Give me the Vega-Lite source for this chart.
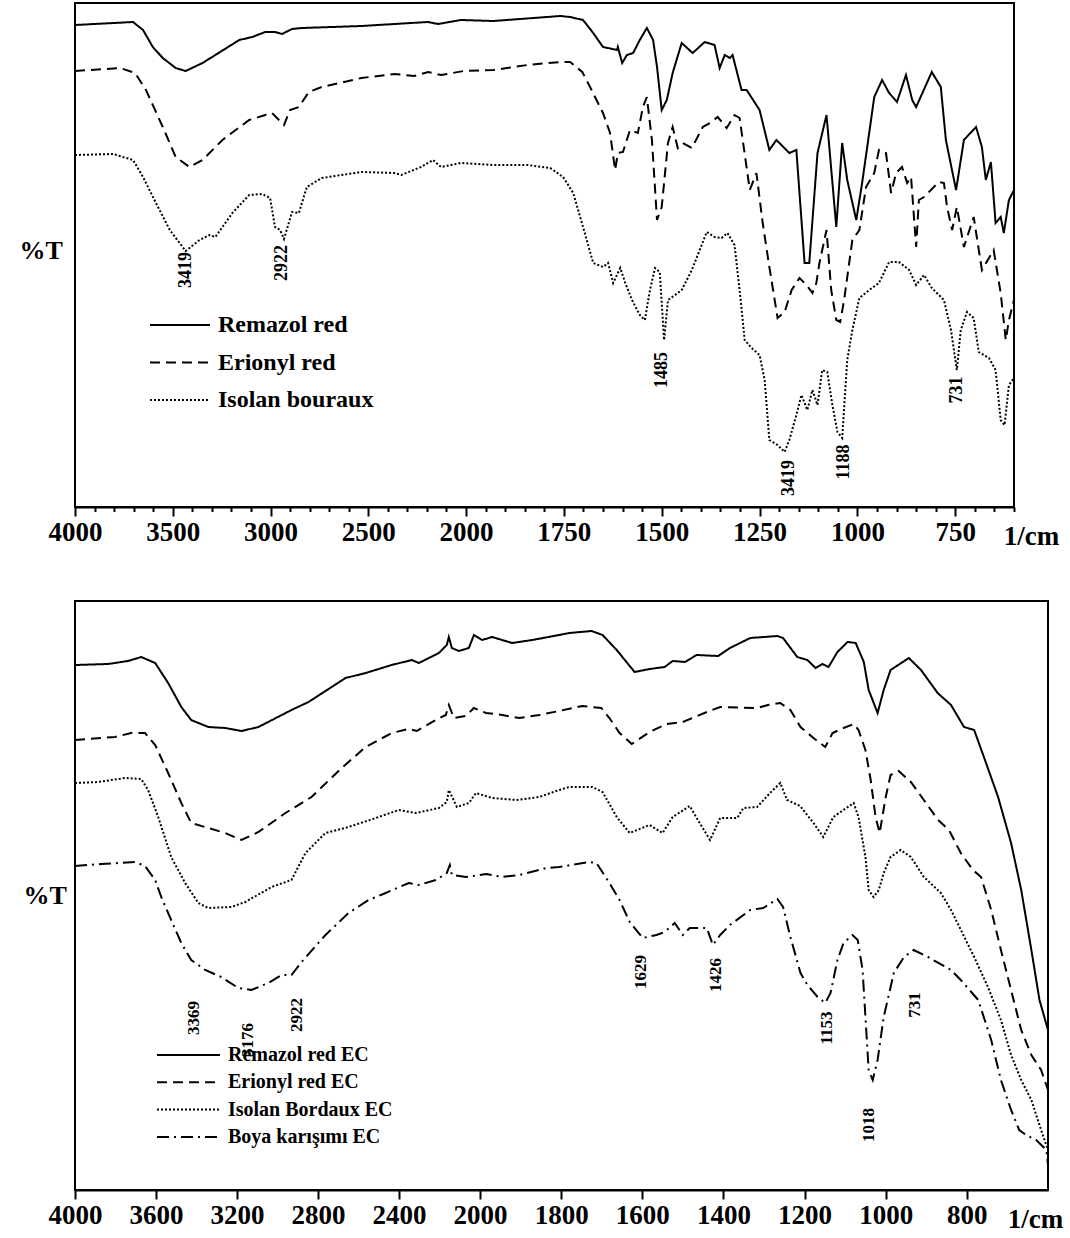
{
  "$schema": "https://vega.github.io/schema/vega-lite/v6.json",
  "padding": {"left": 18, "top": 2, "right": 0, "bottom": 0},
  "background": "white",
  "config": {
    "font": "Liberation Serif",
    "view": {"stroke": "black", "strokeWidth": 2},
    "concat": {"spacing": 94}
  },
  "datasets": {
    "spectraA": [
      {"dye":"Remazol red","wn":4000,"t":482},{"dye":"Remazol red","wn":3703,"t":485},{"dye":"Remazol red","wn":3652,"t":477},{"dye":"Remazol red","wn":3602,"t":460},{"dye":"Remazol red","wn":3551,"t":449},{"dye":"Remazol red","wn":3485,"t":439},{"dye":"Remazol red","wn":3434,"t":436},{"dye":"Remazol red","wn":3348,"t":444},{"dye":"Remazol red","wn":3282,"t":452},{"dye":"Remazol red","wn":3160,"t":467},{"dye":"Remazol red","wn":3093,"t":470},{"dye":"Remazol red","wn":3027,"t":475},{"dye":"Remazol red","wn":2977,"t":475},{"dye":"Remazol red","wn":2941,"t":473},{"dye":"Remazol red","wn":2890,"t":478},{"dye":"Remazol red","wn":2839,"t":479},{"dye":"Remazol red","wn":2535,"t":481},{"dye":"Remazol red","wn":2281,"t":484},{"dye":"Remazol red","wn":2194,"t":485},{"dye":"Remazol red","wn":2143,"t":483},{"dye":"Remazol red","wn":2027,"t":487},{"dye":"Remazol red","wn":1930,"t":486},{"dye":"Remazol red","wn":1759,"t":491},{"dye":"Remazol red","wn":1734,"t":490},{"dye":"Remazol red","wn":1701,"t":487},{"dye":"Remazol red","wn":1675,"t":474},{"dye":"Remazol red","wn":1650,"t":460},{"dye":"Remazol red","wn":1614,"t":457},{"dye":"Remazol red","wn":1612,"t":460},{"dye":"Remazol red","wn":1601,"t":444},{"dye":"Remazol red","wn":1589,"t":452},{"dye":"Remazol red","wn":1573,"t":454},{"dye":"Remazol red","wn":1556,"t":467},{"dye":"Remazol red","wn":1538,"t":479},{"dye":"Remazol red","wn":1522,"t":467},{"dye":"Remazol red","wn":1512,"t":440},{"dye":"Remazol red","wn":1500,"t":397},{"dye":"Remazol red","wn":1487,"t":407},{"dye":"Remazol red","wn":1472,"t":434},{"dye":"Remazol red","wn":1449,"t":464},{"dye":"Remazol red","wn":1421,"t":454},{"dye":"Remazol red","wn":1390,"t":465},{"dye":"Remazol red","wn":1365,"t":462},{"dye":"Remazol red","wn":1352,"t":439},{"dye":"Remazol red","wn":1339,"t":452},{"dye":"Remazol red","wn":1326,"t":449},{"dye":"Remazol red","wn":1319,"t":452},{"dye":"Remazol red","wn":1296,"t":417},{"dye":"Remazol red","wn":1283,"t":417},{"dye":"Remazol red","wn":1250,"t":397},{"dye":"Remazol red","wn":1225,"t":357},{"dye":"Remazol red","wn":1207,"t":367},{"dye":"Remazol red","wn":1174,"t":354},{"dye":"Remazol red","wn":1156,"t":357},{"dye":"Remazol red","wn":1135,"t":244},{"dye":"Remazol red","wn":1123,"t":244},{"dye":"Remazol red","wn":1102,"t":354},{"dye":"Remazol red","wn":1079,"t":392},{"dye":"Remazol red","wn":1054,"t":280},{"dye":"Remazol red","wn":1039,"t":364},{"dye":"Remazol red","wn":1026,"t":327},{"dye":"Remazol red","wn":1003,"t":287},{"dye":"Remazol red","wn":988,"t":324},{"dye":"Remazol red","wn":957,"t":410},{"dye":"Remazol red","wn":937,"t":427},{"dye":"Remazol red","wn":919,"t":414},{"dye":"Remazol red","wn":899,"t":405},{"dye":"Remazol red","wn":876,"t":432},{"dye":"Remazol red","wn":860,"t":407},{"dye":"Remazol red","wn":850,"t":400},{"dye":"Remazol red","wn":810,"t":435},{"dye":"Remazol red","wn":787,"t":420},{"dye":"Remazol red","wn":774,"t":367},{"dye":"Remazol red","wn":748,"t":317},{"dye":"Remazol red","wn":728,"t":367},{"dye":"Remazol red","wn":697,"t":380},{"dye":"Remazol red","wn":682,"t":360},{"dye":"Remazol red","wn":672,"t":327},{"dye":"Remazol red","wn":659,"t":345},{"dye":"Remazol red","wn":647,"t":284},{"dye":"Remazol red","wn":634,"t":290},{"dye":"Remazol red","wn":626,"t":274},{"dye":"Remazol red","wn":613,"t":307},{"dye":"Remazol red","wn":600,"t":317},
      {"dye":"Erionyl red","wn":4000,"t":436},{"dye":"Erionyl red","wn":3769,"t":439},{"dye":"Erionyl red","wn":3693,"t":434},{"dye":"Erionyl red","wn":3637,"t":417},{"dye":"Erionyl red","wn":3551,"t":380},{"dye":"Erionyl red","wn":3485,"t":350},{"dye":"Erionyl red","wn":3414,"t":340},{"dye":"Erionyl red","wn":3348,"t":347},{"dye":"Erionyl red","wn":3246,"t":367},{"dye":"Erionyl red","wn":3109,"t":387},{"dye":"Erionyl red","wn":3027,"t":392},{"dye":"Erionyl red","wn":2992,"t":394},{"dye":"Erionyl red","wn":2931,"t":382},{"dye":"Erionyl red","wn":2900,"t":397},{"dye":"Erionyl red","wn":2855,"t":400},{"dye":"Erionyl red","wn":2804,"t":415},{"dye":"Erionyl red","wn":2738,"t":420},{"dye":"Erionyl red","wn":2535,"t":429},{"dye":"Erionyl red","wn":2367,"t":433},{"dye":"Erionyl red","wn":2265,"t":431},{"dye":"Erionyl red","wn":2194,"t":435},{"dye":"Erionyl red","wn":2128,"t":432},{"dye":"Erionyl red","wn":2011,"t":436},{"dye":"Erionyl red","wn":1930,"t":437},{"dye":"Erionyl red","wn":1843,"t":442},{"dye":"Erionyl red","wn":1759,"t":445},{"dye":"Erionyl red","wn":1734,"t":445},{"dye":"Erionyl red","wn":1703,"t":435},{"dye":"Erionyl red","wn":1683,"t":420},{"dye":"Erionyl red","wn":1650,"t":394},{"dye":"Erionyl red","wn":1632,"t":374},{"dye":"Erionyl red","wn":1619,"t":337},{"dye":"Erionyl red","wn":1612,"t":354},{"dye":"Erionyl red","wn":1599,"t":355},{"dye":"Erionyl red","wn":1581,"t":377},{"dye":"Erionyl red","wn":1561,"t":374},{"dye":"Erionyl red","wn":1548,"t":400},{"dye":"Erionyl red","wn":1538,"t":410},{"dye":"Erionyl red","wn":1525,"t":367},{"dye":"Erionyl red","wn":1512,"t":287},{"dye":"Erionyl red","wn":1500,"t":300},{"dye":"Erionyl red","wn":1484,"t":364},{"dye":"Erionyl red","wn":1472,"t":380},{"dye":"Erionyl red","wn":1459,"t":359},{"dye":"Erionyl red","wn":1446,"t":364},{"dye":"Erionyl red","wn":1423,"t":359},{"dye":"Erionyl red","wn":1395,"t":380},{"dye":"Erionyl red","wn":1377,"t":384},{"dye":"Erionyl red","wn":1357,"t":390},{"dye":"Erionyl red","wn":1334,"t":379},{"dye":"Erionyl red","wn":1314,"t":392},{"dye":"Erionyl red","wn":1301,"t":389},{"dye":"Erionyl red","wn":1275,"t":317},{"dye":"Erionyl red","wn":1258,"t":334},{"dye":"Erionyl red","wn":1242,"t":284},{"dye":"Erionyl red","wn":1225,"t":240},{"dye":"Erionyl red","wn":1204,"t":189},{"dye":"Erionyl red","wn":1186,"t":195},{"dye":"Erionyl red","wn":1168,"t":217},{"dye":"Erionyl red","wn":1148,"t":229},{"dye":"Erionyl red","wn":1130,"t":222},{"dye":"Erionyl red","wn":1115,"t":214},{"dye":"Erionyl red","wn":1105,"t":224},{"dye":"Erionyl red","wn":1097,"t":244},{"dye":"Erionyl red","wn":1079,"t":277},{"dye":"Erionyl red","wn":1067,"t":217},{"dye":"Erionyl red","wn":1054,"t":187},{"dye":"Erionyl red","wn":1044,"t":185},{"dye":"Erionyl red","wn":1034,"t":207},{"dye":"Erionyl red","wn":1013,"t":267},{"dye":"Erionyl red","wn":995,"t":277},{"dye":"Erionyl red","wn":978,"t":320},{"dye":"Erionyl red","wn":957,"t":334},{"dye":"Erionyl red","wn":945,"t":357},{"dye":"Erionyl red","wn":927,"t":354},{"dye":"Erionyl red","wn":914,"t":314},{"dye":"Erionyl red","wn":901,"t":334},{"dye":"Erionyl red","wn":886,"t":340},{"dye":"Erionyl red","wn":873,"t":324},{"dye":"Erionyl red","wn":863,"t":330},{"dye":"Erionyl red","wn":850,"t":260},{"dye":"Erionyl red","wn":843,"t":307},{"dye":"Erionyl red","wn":830,"t":310},{"dye":"Erionyl red","wn":792,"t":325},{"dye":"Erionyl red","wn":779,"t":324},{"dye":"Erionyl red","wn":771,"t":300},{"dye":"Erionyl red","wn":758,"t":277},{"dye":"Erionyl red","wn":746,"t":300},{"dye":"Erionyl red","wn":728,"t":260},{"dye":"Erionyl red","wn":703,"t":290},{"dye":"Erionyl red","wn":682,"t":237},{"dye":"Erionyl red","wn":652,"t":257},{"dye":"Erionyl red","wn":634,"t":214},{"dye":"Erionyl red","wn":621,"t":167},{"dye":"Erionyl red","wn":613,"t":187},{"dye":"Erionyl red","wn":600,"t":207},
      {"dye":"Isolan bouraux","wn":4000,"t":352},{"dye":"Isolan bouraux","wn":3805,"t":353},{"dye":"Isolan bouraux","wn":3703,"t":347},{"dye":"Isolan bouraux","wn":3652,"t":330},{"dye":"Isolan bouraux","wn":3586,"t":304},{"dye":"Isolan bouraux","wn":3515,"t":277},{"dye":"Isolan bouraux","wn":3434,"t":256},{"dye":"Isolan bouraux","wn":3363,"t":267},{"dye":"Isolan bouraux","wn":3312,"t":272},{"dye":"Isolan bouraux","wn":3282,"t":270},{"dye":"Isolan bouraux","wn":3195,"t":294},{"dye":"Isolan bouraux","wn":3109,"t":312},{"dye":"Isolan bouraux","wn":3043,"t":313},{"dye":"Isolan bouraux","wn":3002,"t":309},{"dye":"Isolan bouraux","wn":2977,"t":280},{"dye":"Isolan bouraux","wn":2951,"t":277},{"dye":"Isolan bouraux","wn":2931,"t":268},{"dye":"Isolan bouraux","wn":2890,"t":295},{"dye":"Isolan bouraux","wn":2855,"t":294},{"dye":"Isolan bouraux","wn":2814,"t":320},{"dye":"Isolan bouraux","wn":2738,"t":329},{"dye":"Isolan bouraux","wn":2535,"t":335},{"dye":"Isolan bouraux","wn":2367,"t":334},{"dye":"Isolan bouraux","wn":2331,"t":332},{"dye":"Isolan bouraux","wn":2230,"t":340},{"dye":"Isolan bouraux","wn":2169,"t":347},{"dye":"Isolan bouraux","wn":2128,"t":340},{"dye":"Isolan bouraux","wn":2027,"t":344},{"dye":"Isolan bouraux","wn":1930,"t":342},{"dye":"Isolan bouraux","wn":1843,"t":342},{"dye":"Isolan bouraux","wn":1785,"t":339},{"dye":"Isolan bouraux","wn":1752,"t":330},{"dye":"Isolan bouraux","wn":1726,"t":314},{"dye":"Isolan bouraux","wn":1701,"t":280},{"dye":"Isolan bouraux","wn":1675,"t":244},{"dye":"Isolan bouraux","wn":1650,"t":240},{"dye":"Isolan bouraux","wn":1637,"t":244},{"dye":"Isolan bouraux","wn":1624,"t":224},{"dye":"Isolan bouraux","wn":1606,"t":239},{"dye":"Isolan bouraux","wn":1594,"t":225},{"dye":"Isolan bouraux","wn":1576,"t":207},{"dye":"Isolan bouraux","wn":1556,"t":192},{"dye":"Isolan bouraux","wn":1543,"t":187},{"dye":"Isolan bouraux","wn":1530,"t":217},{"dye":"Isolan bouraux","wn":1517,"t":239},{"dye":"Isolan bouraux","wn":1505,"t":235},{"dye":"Isolan bouraux","wn":1494,"t":167},{"dye":"Isolan bouraux","wn":1484,"t":207},{"dye":"Isolan bouraux","wn":1466,"t":212},{"dye":"Isolan bouraux","wn":1449,"t":217},{"dye":"Isolan bouraux","wn":1423,"t":237},{"dye":"Isolan bouraux","wn":1403,"t":257},{"dye":"Isolan bouraux","wn":1385,"t":275},{"dye":"Isolan bouraux","wn":1365,"t":270},{"dye":"Isolan bouraux","wn":1347,"t":269},{"dye":"Isolan bouraux","wn":1332,"t":274},{"dye":"Isolan bouraux","wn":1314,"t":262},{"dye":"Isolan bouraux","wn":1301,"t":217},{"dye":"Isolan bouraux","wn":1288,"t":167},{"dye":"Isolan bouraux","wn":1270,"t":159},{"dye":"Isolan bouraux","wn":1250,"t":152},{"dye":"Isolan bouraux","wn":1237,"t":127},{"dye":"Isolan bouraux","wn":1225,"t":67},{"dye":"Isolan bouraux","wn":1204,"t":62},{"dye":"Isolan bouraux","wn":1186,"t":55},{"dye":"Isolan bouraux","wn":1174,"t":67},{"dye":"Isolan bouraux","wn":1156,"t":92},{"dye":"Isolan bouraux","wn":1143,"t":112},{"dye":"Isolan bouraux","wn":1128,"t":97},{"dye":"Isolan bouraux","wn":1115,"t":117},{"dye":"Isolan bouraux","wn":1102,"t":102},{"dye":"Isolan bouraux","wn":1090,"t":137},{"dye":"Isolan bouraux","wn":1077,"t":135},{"dye":"Isolan bouraux","wn":1064,"t":102},{"dye":"Isolan bouraux","wn":1051,"t":75},{"dye":"Isolan bouraux","wn":1039,"t":69},{"dye":"Isolan bouraux","wn":1026,"t":147},{"dye":"Isolan bouraux","wn":1013,"t":177},{"dye":"Isolan bouraux","wn":995,"t":209},{"dye":"Isolan bouraux","wn":970,"t":217},{"dye":"Isolan bouraux","wn":945,"t":224},{"dye":"Isolan bouraux","wn":919,"t":245},{"dye":"Isolan bouraux","wn":894,"t":245},{"dye":"Isolan bouraux","wn":868,"t":237},{"dye":"Isolan bouraux","wn":850,"t":222},{"dye":"Isolan bouraux","wn":830,"t":232},{"dye":"Isolan bouraux","wn":810,"t":219},{"dye":"Isolan bouraux","wn":779,"t":207},{"dye":"Isolan bouraux","wn":761,"t":177},{"dye":"Isolan bouraux","wn":746,"t":137},{"dye":"Isolan bouraux","wn":736,"t":177},{"dye":"Isolan bouraux","wn":720,"t":195},{"dye":"Isolan bouraux","wn":703,"t":189},{"dye":"Isolan bouraux","wn":690,"t":155},{"dye":"Isolan bouraux","wn":664,"t":149},{"dye":"Isolan bouraux","wn":647,"t":137},{"dye":"Isolan bouraux","wn":634,"t":87},{"dye":"Isolan bouraux","wn":624,"t":82},{"dye":"Isolan bouraux","wn":613,"t":122},{"dye":"Isolan bouraux","wn":600,"t":129}
    ],
    "peaksA": [
      {"wn":3434,"t":237,"label":"3419"},
      {"wn":2941,"t":244,"label":"2922"},
      {"wn":1499,"t":137,"label":"1485"},
      {"wn":1174,"t":29,"label":"3419"},
      {"wn":1034,"t":45,"label":"1188"},
      {"wn":746,"t":117,"label":"731"}
    ],
    "spectraB": [
      {"dye":"Remazol red EC","wn":4000,"t":525},{"dye":"Remazol red EC","wn":3837,"t":526},{"dye":"Remazol red EC","wn":3738,"t":529},{"dye":"Remazol red EC","wn":3673,"t":533},{"dye":"Remazol red EC","wn":3604,"t":527},{"dye":"Remazol red EC","wn":3540,"t":507},{"dye":"Remazol red EC","wn":3475,"t":483},{"dye":"Remazol red EC","wn":3426,"t":470},{"dye":"Remazol red EC","wn":3342,"t":463},{"dye":"Remazol red EC","wn":3258,"t":462},{"dye":"Remazol red EC","wn":3178,"t":459},{"dye":"Remazol red EC","wn":3094,"t":463},{"dye":"Remazol red EC","wn":2931,"t":480},{"dye":"Remazol red EC","wn":2847,"t":488},{"dye":"Remazol red EC","wn":2664,"t":512},{"dye":"Remazol red EC","wn":2565,"t":517},{"dye":"Remazol red EC","wn":2436,"t":525},{"dye":"Remazol red EC","wn":2337,"t":530},{"dye":"Remazol red EC","wn":2302,"t":527},{"dye":"Remazol red EC","wn":2203,"t":537},{"dye":"Remazol red EC","wn":2164,"t":545},{"dye":"Remazol red EC","wn":2154,"t":553},{"dye":"Remazol red EC","wn":2139,"t":542},{"dye":"Remazol red EC","wn":2104,"t":539},{"dye":"Remazol red EC","wn":2055,"t":542},{"dye":"Remazol red EC","wn":2030,"t":555},{"dye":"Remazol red EC","wn":1995,"t":550},{"dye":"Remazol red EC","wn":1970,"t":553},{"dye":"Remazol red EC","wn":1921,"t":547},{"dye":"Remazol red EC","wn":1871,"t":550},{"dye":"Remazol red EC","wn":1805,"t":555},{"dye":"Remazol red EC","wn":1780,"t":557},{"dye":"Remazol red EC","wn":1725,"t":559},{"dye":"Remazol red EC","wn":1698,"t":555},{"dye":"Remazol red EC","wn":1663,"t":540},{"dye":"Remazol red EC","wn":1619,"t":518},{"dye":"Remazol red EC","wn":1582,"t":521},{"dye":"Remazol red EC","wn":1545,"t":523},{"dye":"Remazol red EC","wn":1525,"t":529},{"dye":"Remazol red EC","wn":1495,"t":528},{"dye":"Remazol red EC","wn":1466,"t":535},{"dye":"Remazol red EC","wn":1413,"t":534},{"dye":"Remazol red EC","wn":1384,"t":542},{"dye":"Remazol red EC","wn":1334,"t":552},{"dye":"Remazol red EC","wn":1267,"t":554},{"dye":"Remazol red EC","wn":1253,"t":552},{"dye":"Remazol red EC","wn":1218,"t":533},{"dye":"Remazol red EC","wn":1193,"t":530},{"dye":"Remazol red EC","wn":1173,"t":522},{"dye":"Remazol red EC","wn":1156,"t":526},{"dye":"Remazol red EC","wn":1141,"t":523},{"dye":"Remazol red EC","wn":1119,"t":538},{"dye":"Remazol red EC","wn":1094,"t":548},{"dye":"Remazol red EC","wn":1074,"t":547},{"dye":"Remazol red EC","wn":1054,"t":528},{"dye":"Remazol red EC","wn":1042,"t":500},{"dye":"Remazol red EC","wn":1020,"t":477},{"dye":"Remazol red EC","wn":1005,"t":500},{"dye":"Remazol red EC","wn":988,"t":520},{"dye":"Remazol red EC","wn":943,"t":532},{"dye":"Remazol red EC","wn":913,"t":520},{"dye":"Remazol red EC","wn":872,"t":497},{"dye":"Remazol red EC","wn":839,"t":485},{"dye":"Remazol red EC","wn":807,"t":463},{"dye":"Remazol red EC","wn":782,"t":460},{"dye":"Remazol red EC","wn":758,"t":433},{"dye":"Remazol red EC","wn":723,"t":393},{"dye":"Remazol red EC","wn":691,"t":347},{"dye":"Remazol red EC","wn":666,"t":300},{"dye":"Remazol red EC","wn":641,"t":240},{"dye":"Remazol red EC","wn":621,"t":190},{"dye":"Remazol red EC","wn":607,"t":170},{"dye":"Remazol red EC","wn":600,"t":160},
      {"dye":"Erionyl red EC","wn":4000,"t":450},{"dye":"Erionyl red EC","wn":3802,"t":453},{"dye":"Erionyl red EC","wn":3723,"t":457},{"dye":"Erionyl red EC","wn":3654,"t":457},{"dye":"Erionyl red EC","wn":3604,"t":445},{"dye":"Erionyl red EC","wn":3540,"t":417},{"dye":"Erionyl red EC","wn":3475,"t":387},{"dye":"Erionyl red EC","wn":3426,"t":367},{"dye":"Erionyl red EC","wn":3342,"t":362},{"dye":"Erionyl red EC","wn":3258,"t":357},{"dye":"Erionyl red EC","wn":3178,"t":350},{"dye":"Erionyl red EC","wn":3094,"t":358},{"dye":"Erionyl red EC","wn":2961,"t":377},{"dye":"Erionyl red EC","wn":2832,"t":393},{"dye":"Erionyl red EC","wn":2683,"t":422},{"dye":"Erionyl red EC","wn":2565,"t":443},{"dye":"Erionyl red EC","wn":2436,"t":457},{"dye":"Erionyl red EC","wn":2352,"t":461},{"dye":"Erionyl red EC","wn":2312,"t":459},{"dye":"Erionyl red EC","wn":2218,"t":470},{"dye":"Erionyl red EC","wn":2169,"t":475},{"dye":"Erionyl red EC","wn":2154,"t":485},{"dye":"Erionyl red EC","wn":2129,"t":472},{"dye":"Erionyl red EC","wn":2070,"t":474},{"dye":"Erionyl red EC","wn":2030,"t":482},{"dye":"Erionyl red EC","wn":1985,"t":477},{"dye":"Erionyl red EC","wn":1945,"t":475},{"dye":"Erionyl red EC","wn":1903,"t":472},{"dye":"Erionyl red EC","wn":1854,"t":475},{"dye":"Erionyl red EC","wn":1805,"t":479},{"dye":"Erionyl red EC","wn":1748,"t":484},{"dye":"Erionyl red EC","wn":1701,"t":482},{"dye":"Erionyl red EC","wn":1681,"t":472},{"dye":"Erionyl red EC","wn":1656,"t":457},{"dye":"Erionyl red EC","wn":1626,"t":446},{"dye":"Erionyl red EC","wn":1582,"t":458},{"dye":"Erionyl red EC","wn":1540,"t":466},{"dye":"Erionyl red EC","wn":1500,"t":468},{"dye":"Erionyl red EC","wn":1441,"t":478},{"dye":"Erionyl red EC","wn":1408,"t":483},{"dye":"Erionyl red EC","wn":1317,"t":482},{"dye":"Erionyl red EC","wn":1290,"t":485},{"dye":"Erionyl red EC","wn":1260,"t":487},{"dye":"Erionyl red EC","wn":1235,"t":480},{"dye":"Erionyl red EC","wn":1210,"t":463},{"dye":"Erionyl red EC","wn":1178,"t":452},{"dye":"Erionyl red EC","wn":1149,"t":443},{"dye":"Erionyl red EC","wn":1131,"t":457},{"dye":"Erionyl red EC","wn":1104,"t":462},{"dye":"Erionyl red EC","wn":1079,"t":466},{"dye":"Erionyl red EC","wn":1067,"t":460},{"dye":"Erionyl red EC","wn":1050,"t":440},{"dye":"Erionyl red EC","wn":1037,"t":410},{"dye":"Erionyl red EC","wn":1025,"t":373},{"dye":"Erionyl red EC","wn":1015,"t":357},{"dye":"Erionyl red EC","wn":1000,"t":393},{"dye":"Erionyl red EC","wn":988,"t":415},{"dye":"Erionyl red EC","wn":968,"t":419},{"dye":"Erionyl red EC","wn":938,"t":408},{"dye":"Erionyl red EC","wn":906,"t":390},{"dye":"Erionyl red EC","wn":871,"t":370},{"dye":"Erionyl red EC","wn":844,"t":360},{"dye":"Erionyl red EC","wn":815,"t":337},{"dye":"Erionyl red EC","wn":785,"t":320},{"dye":"Erionyl red EC","wn":765,"t":313},{"dye":"Erionyl red EC","wn":740,"t":280},{"dye":"Erionyl red EC","wn":716,"t":240},{"dye":"Erionyl red EC","wn":691,"t":200},{"dye":"Erionyl red EC","wn":666,"t":160},{"dye":"Erionyl red EC","wn":641,"t":135},{"dye":"Erionyl red EC","wn":617,"t":120},{"dye":"Erionyl red EC","wn":600,"t":100},
      {"dye":"Isolan Bordaux EC","wn":4000,"t":407},{"dye":"Isolan Bordaux EC","wn":3886,"t":408},{"dye":"Isolan Bordaux EC","wn":3753,"t":412},{"dye":"Isolan Bordaux EC","wn":3673,"t":411},{"dye":"Isolan Bordaux EC","wn":3639,"t":400},{"dye":"Isolan Bordaux EC","wn":3589,"t":373},{"dye":"Isolan Bordaux EC","wn":3525,"t":333},{"dye":"Isolan Bordaux EC","wn":3456,"t":307},{"dye":"Isolan Bordaux EC","wn":3391,"t":287},{"dye":"Isolan Bordaux EC","wn":3342,"t":282},{"dye":"Isolan Bordaux EC","wn":3228,"t":283},{"dye":"Isolan Bordaux EC","wn":3159,"t":288},{"dye":"Isolan Bordaux EC","wn":3030,"t":303},{"dye":"Isolan Bordaux EC","wn":2931,"t":310},{"dye":"Isolan Bordaux EC","wn":2862,"t":337},{"dye":"Isolan Bordaux EC","wn":2763,"t":357},{"dye":"Isolan Bordaux EC","wn":2649,"t":363},{"dye":"Isolan Bordaux EC","wn":2515,"t":372},{"dye":"Isolan Bordaux EC","wn":2401,"t":380},{"dye":"Isolan Bordaux EC","wn":2317,"t":377},{"dye":"Isolan Bordaux EC","wn":2203,"t":382},{"dye":"Isolan Bordaux EC","wn":2164,"t":388},{"dye":"Isolan Bordaux EC","wn":2154,"t":400},{"dye":"Isolan Bordaux EC","wn":2114,"t":383},{"dye":"Isolan Bordaux EC","wn":2055,"t":387},{"dye":"Isolan Bordaux EC","wn":2020,"t":397},{"dye":"Isolan Bordaux EC","wn":1970,"t":392},{"dye":"Isolan Bordaux EC","wn":1911,"t":390},{"dye":"Isolan Bordaux EC","wn":1854,"t":393},{"dye":"Isolan Bordaux EC","wn":1805,"t":400},{"dye":"Isolan Bordaux EC","wn":1780,"t":403},{"dye":"Isolan Bordaux EC","wn":1723,"t":403},{"dye":"Isolan Bordaux EC","wn":1698,"t":398},{"dye":"Isolan Bordaux EC","wn":1663,"t":373},{"dye":"Isolan Bordaux EC","wn":1631,"t":357},{"dye":"Isolan Bordaux EC","wn":1582,"t":365},{"dye":"Isolan Bordaux EC","wn":1550,"t":357},{"dye":"Isolan Bordaux EC","wn":1525,"t":373},{"dye":"Isolan Bordaux EC","wn":1483,"t":384},{"dye":"Isolan Bordaux EC","wn":1463,"t":370},{"dye":"Isolan Bordaux EC","wn":1433,"t":350},{"dye":"Isolan Bordaux EC","wn":1408,"t":372},{"dye":"Isolan Bordaux EC","wn":1366,"t":372},{"dye":"Isolan Bordaux EC","wn":1351,"t":382},{"dye":"Isolan Bordaux EC","wn":1317,"t":383},{"dye":"Isolan Bordaux EC","wn":1285,"t":397},{"dye":"Isolan Bordaux EC","wn":1260,"t":407},{"dye":"Isolan Bordaux EC","wn":1243,"t":390},{"dye":"Isolan Bordaux EC","wn":1211,"t":384},{"dye":"Isolan Bordaux EC","wn":1178,"t":367},{"dye":"Isolan Bordaux EC","wn":1154,"t":353},{"dye":"Isolan Bordaux EC","wn":1129,"t":373},{"dye":"Isolan Bordaux EC","wn":1104,"t":380},{"dye":"Isolan Bordaux EC","wn":1079,"t":387},{"dye":"Isolan Bordaux EC","wn":1067,"t":373},{"dye":"Isolan Bordaux EC","wn":1050,"t":333},{"dye":"Isolan Bordaux EC","wn":1042,"t":300},{"dye":"Isolan Bordaux EC","wn":1030,"t":293},{"dye":"Isolan Bordaux EC","wn":1017,"t":300},{"dye":"Isolan Bordaux EC","wn":1005,"t":317},{"dye":"Isolan Bordaux EC","wn":988,"t":333},{"dye":"Isolan Bordaux EC","wn":963,"t":340},{"dye":"Isolan Bordaux EC","wn":938,"t":333},{"dye":"Isolan Bordaux EC","wn":906,"t":313},{"dye":"Isolan Bordaux EC","wn":864,"t":297},{"dye":"Isolan Bordaux EC","wn":839,"t":280},{"dye":"Isolan Bordaux EC","wn":782,"t":233},{"dye":"Isolan Bordaux EC","wn":748,"t":203},{"dye":"Isolan Bordaux EC","wn":716,"t":170},{"dye":"Isolan Bordaux EC","wn":691,"t":135},{"dye":"Isolan Bordaux EC","wn":666,"t":110},{"dye":"Isolan Bordaux EC","wn":641,"t":90},{"dye":"Isolan Bordaux EC","wn":617,"t":60},{"dye":"Isolan Bordaux EC","wn":600,"t":40},
      {"dye":"Boya karışımı EC","wn":4000,"t":324},{"dye":"Boya karışımı EC","wn":3871,"t":326},{"dye":"Boya karışımı EC","wn":3703,"t":328},{"dye":"Boya karışımı EC","wn":3654,"t":324},{"dye":"Boya karışımı EC","wn":3604,"t":310},{"dye":"Boya karışımı EC","wn":3574,"t":293},{"dye":"Boya karışımı EC","wn":3525,"t":270},{"dye":"Boya karışımı EC","wn":3475,"t":247},{"dye":"Boya karışımı EC","wn":3426,"t":230},{"dye":"Boya karışımı EC","wn":3357,"t":220},{"dye":"Boya karışımı EC","wn":3278,"t":213},{"dye":"Boya karışımı EC","wn":3193,"t":202},{"dye":"Boya karışımı EC","wn":3129,"t":200},{"dye":"Boya karışımı EC","wn":3045,"t":207},{"dye":"Boya karışımı EC","wn":2980,"t":215},{"dye":"Boya karışımı EC","wn":2931,"t":215},{"dye":"Boya karışımı EC","wn":2881,"t":228},{"dye":"Boya karışımı EC","wn":2763,"t":255},{"dye":"Boya karışımı EC","wn":2649,"t":277},{"dye":"Boya karışımı EC","wn":2550,"t":290},{"dye":"Boya karışımı EC","wn":2466,"t":297},{"dye":"Boya karışımı EC","wn":2352,"t":307},{"dye":"Boya karışımı EC","wn":2302,"t":305},{"dye":"Boya karışımı EC","wn":2218,"t":310},{"dye":"Boya karışımı EC","wn":2164,"t":317},{"dye":"Boya karışımı EC","wn":2149,"t":325},{"dye":"Boya karışımı EC","wn":2139,"t":315},{"dye":"Boya karışımı EC","wn":2070,"t":313},{"dye":"Boya karışımı EC","wn":1985,"t":316},{"dye":"Boya karışımı EC","wn":1945,"t":313},{"dye":"Boya karışımı EC","wn":1903,"t":315},{"dye":"Boya karışımı EC","wn":1837,"t":322},{"dye":"Boya karışımı EC","wn":1805,"t":323},{"dye":"Boya karışımı EC","wn":1730,"t":328},{"dye":"Boya karışımı EC","wn":1713,"t":327},{"dye":"Boya karışımı EC","wn":1681,"t":307},{"dye":"Boya karışımı EC","wn":1656,"t":290},{"dye":"Boya karışımı EC","wn":1631,"t":268},{"dye":"Boya karışımı EC","wn":1599,"t":252},{"dye":"Boya karışımı EC","wn":1565,"t":255},{"dye":"Boya karışımı EC","wn":1545,"t":258},{"dye":"Boya karışımı EC","wn":1520,"t":267},{"dye":"Boya karışımı EC","wn":1500,"t":255},{"dye":"Boya karışımı EC","wn":1483,"t":262},{"dye":"Boya karışımı EC","wn":1441,"t":262},{"dye":"Boya karışımı EC","wn":1426,"t":245},{"dye":"Boya karışımı EC","wn":1408,"t":255},{"dye":"Boya karışımı EC","wn":1384,"t":265},{"dye":"Boya karışımı EC","wn":1334,"t":280},{"dye":"Boya karışımı EC","wn":1302,"t":282},{"dye":"Boya karışımı EC","wn":1267,"t":291},{"dye":"Boya karışımı EC","wn":1253,"t":283},{"dye":"Boya karışımı EC","wn":1235,"t":253},{"dye":"Boya karışımı EC","wn":1210,"t":217},{"dye":"Boya karışımı EC","wn":1193,"t":205},{"dye":"Boya karışımı EC","wn":1168,"t":193},{"dye":"Boya karışımı EC","wn":1149,"t":187},{"dye":"Boya karışımı EC","wn":1136,"t":197},{"dye":"Boya karışımı EC","wn":1119,"t":230},{"dye":"Boya karışımı EC","wn":1104,"t":247},{"dye":"Boya karışımı EC","wn":1082,"t":255},{"dye":"Boya karışımı EC","wn":1069,"t":250},{"dye":"Boya karışımı EC","wn":1057,"t":220},{"dye":"Boya karışımı EC","wn":1050,"t":173},{"dye":"Boya karışımı EC","wn":1042,"t":120},{"dye":"Boya karışımı EC","wn":1032,"t":110},{"dye":"Boya karışımı EC","wn":1020,"t":130},{"dye":"Boya karışımı EC","wn":1005,"t":173},{"dye":"Boya karışımı EC","wn":980,"t":217},{"dye":"Boya karışımı EC","wn":955,"t":233},{"dye":"Boya karışımı EC","wn":931,"t":240},{"dye":"Boya karışımı EC","wn":896,"t":233},{"dye":"Boya karışımı EC","wn":839,"t":220},{"dye":"Boya karışımı EC","wn":815,"t":210},{"dye":"Boya karışımı EC","wn":772,"t":190},{"dye":"Boya karışımı EC","wn":740,"t":150},{"dye":"Boya karışımı EC","wn":716,"t":110},{"dye":"Boya karışımı EC","wn":691,"t":80},{"dye":"Boya karışımı EC","wn":671,"t":60},{"dye":"Boya karışımı EC","wn":654,"t":55},{"dye":"Boya karışımı EC","wn":629,"t":50},{"dye":"Boya karışımı EC","wn":604,"t":40},{"dye":"Boya karışımı EC","wn":600,"t":25}
    ],
    "peaksB": [
      {"wn":3411,"t":172,"label":"3369"},
      {"wn":3144,"t":150,"label":"3176"},
      {"wn":2906,"t":175,"label":"2922"},
      {"wn":1604,"t":218,"label":"1629"},
      {"wn":1418,"t":215,"label":"1426"},
      {"wn":1144,"t":162,"label":"1153"},
      {"wn":928,"t":185,"label":"731"},
      {"wn":1042,"t":65,"label":"1018"}
    ]
  },
  "vconcat": [
    {
      "width": 939,
      "height": 504,
      "layer": [
        {
          "data": {"name": "spectraA"},
          "mark": {"type": "line", "color": "black", "strokeWidth": 2},
          "encoding": {
            "x": {
              "field": "wn", "type": "quantitative",
              "scale": {"domain": [4000, 2000, 600], "range": [0, 391, 939], "nice": false, "zero": false},
              "axis": {
                "values": [4000, 3500, 3000, 2500, 2000, 1750, 1500, 1250, 1000, 750],
                "format": "d", "grid": false, "labelFlush": false, "labelOverlap": false,
                "labelFont": "Liberation Serif", "labelFontSize": 27, "labelFontWeight": "bold", "labelColor": "black", "labelPadding": 3,
                "tickSize": 9, "tickWidth": 2, "tickColor": "black", "domainColor": "black", "domainWidth": 2,
                "title": "1/cm", "titleFont": "Liberation Serif", "titleFontSize": 27, "titleFontWeight": "bold", "titleColor": "black",
                "titleAnchor": "start", "titleAlign": "center", "titleBaseline": "alphabetic", "titleX": 956, "titleY": 37
              }
            },
            "y": {
              "field": "t", "type": "quantitative",
              "scale": {"domain": [0, 504], "nice": false, "zero": false},
              "axis": {
                "domain": false, "ticks": false, "labels": false, "grid": false,
                "title": "%T", "titleAngle": 0, "titleFont": "Liberation Serif", "titleFontSize": 26, "titleFontWeight": "bold", "titleColor": "black",
                "titleAlign": "left", "titleBaseline": "middle", "titleX": -56, "titleY": 247
              }
            },
            "strokeDash": {
              "field": "dye", "type": "nominal",
              "scale": {"domain": ["Remazol red", "Erionyl red", "Isolan bouraux"], "range": [[1, 0], [10, 6], [2, 2]]},
              "legend": {
                "orient": "none", "legendX": 74, "legendY": 309, "title": null, "padding": 0,
                "symbolType": "stroke", "symbolSize": 3600, "symbolStrokeWidth": 2, "symbolStrokeColor": "black",
                "clipHeight": 26, "rowPadding": 11.5, "labelOffset": 7, "labelLimit": 0,
                "labelFont": "Liberation Serif", "labelFontSize": 24, "labelFontWeight": "bold", "labelColor": "black"
              }
            }
          }
        },
        {
          "data": {"name": "peaksA"},
          "mark": {"type": "text", "angle": 270, "align": "center", "baseline": "middle", "font": "Liberation Serif", "fontSize": 18, "fontWeight": "bold", "color": "black"},
          "encoding": {
            "x": {
              "field": "wn", "type": "quantitative",
              "axis": {
                "orient": "bottom", "values": [3900, 3800, 3700, 3600, 3400, 3300, 3200, 3100, 2900, 2800, 2700, 2600, 2400, 2300, 2200, 2100, 1950, 1900, 1850, 1800, 1700, 1650, 1600, 1550, 1450, 1400, 1350, 1300, 1200, 1150, 1100, 1050, 950, 900, 850, 800, 700, 650, 600],
                "labels": false, "domain": false, "grid": false, "title": null, "tickSize": 4.5, "tickWidth": 2, "tickColor": "black"
              }
            },
            "y": {"field": "t", "type": "quantitative"},
            "text": {"field": "label"}
          }
        }
      ],
      "resolve": {"axis": {"x": "independent"}}
    },
    {
      "width": 973,
      "height": 589,
      "layer": [
        {
          "data": {"name": "spectraB"},
          "mark": {"type": "line", "color": "black", "strokeWidth": 2},
          "encoding": {
            "x": {
              "field": "wn", "type": "quantitative",
              "scale": {"domain": [4000, 2000, 600], "range": [0, 405, 973], "nice": false, "zero": false},
              "axis": {
                "values": [4000, 3600, 3200, 2800, 2400, 2000, 1800, 1600, 1400, 1200, 1000, 800],
                "format": "d", "grid": false, "labelFlush": false, "labelOverlap": false,
                "labelFont": "Liberation Serif", "labelFontSize": 27, "labelFontWeight": "bold", "labelColor": "black", "labelPadding": 3,
                "tickSize": 9, "tickWidth": 2, "tickColor": "black", "domainColor": "black", "domainWidth": 2,
                "title": "1/cm", "titleFont": "Liberation Serif", "titleFontSize": 27, "titleFontWeight": "bold", "titleColor": "black",
                "titleAnchor": "start", "titleAlign": "center", "titleBaseline": "alphabetic", "titleX": 960, "titleY": 37
              }
            },
            "y": {
              "field": "t", "type": "quantitative",
              "scale": {"domain": [0, 589], "nice": false, "zero": false},
              "axis": {
                "domain": false, "ticks": false, "labels": false, "grid": false,
                "title": "%T", "titleAngle": 0, "titleFont": "Liberation Serif", "titleFontSize": 26, "titleFontWeight": "bold", "titleColor": "black",
                "titleAlign": "left", "titleBaseline": "middle", "titleX": -52, "titleY": 294
              }
            },
            "strokeDash": {
              "field": "dye", "type": "nominal",
              "scale": {"domain": ["Remazol red EC", "Erionyl red EC", "Isolan Bordaux EC", "Boya karışımı EC"], "range": [[1, 0], [10, 6], [2, 2], [12, 5, 2, 5]]},
              "legend": {
                "orient": "none", "legendX": 81, "legendY": 443, "title": null, "padding": 0,
                "symbolType": "stroke", "symbolSize": 3969, "symbolStrokeWidth": 2, "symbolStrokeColor": "black",
                "clipHeight": 22, "rowPadding": 5.3, "labelOffset": 7, "labelLimit": 0,
                "labelFont": "Liberation Serif", "labelFontSize": 20, "labelFontWeight": "bold", "labelColor": "black"
              }
            }
          }
        },
        {
          "data": {"name": "peaksB"},
          "mark": {"type": "text", "angle": 270, "align": "center", "baseline": "middle", "font": "Liberation Serif", "fontSize": 17, "fontWeight": "bold", "color": "black"},
          "encoding": {
            "x": {"field": "wn", "type": "quantitative"},
            "y": {"field": "t", "type": "quantitative"},
            "text": {"field": "label"}
          }
        }
      ]
    }
  ],
  "resolve": {"scale": {"strokeDash": "independent"}, "legend": {"strokeDash": "independent"}},
  "bounds": "flush"
}
